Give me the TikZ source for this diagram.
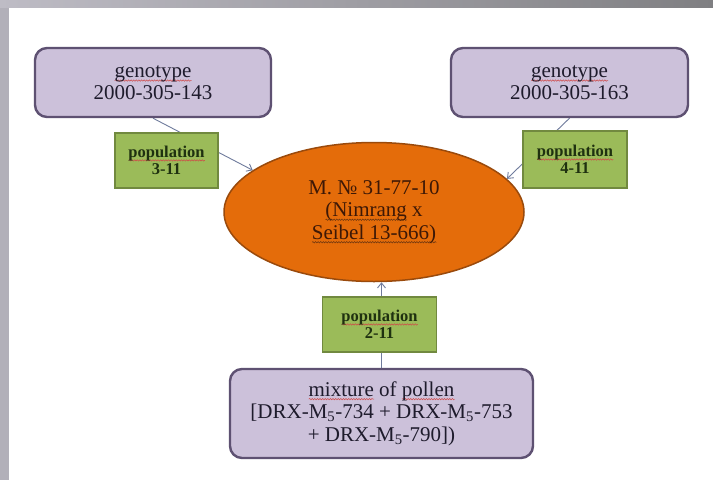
\documentclass[tikz,border=0pt]{standalone}
\usepackage{fontspec}
\setmainfont{Liberation Serif}
\usetikzlibrary{shapes.geometric,arrows.meta,backgrounds,decorations.pathmorphing}
\definecolor{purplefill}{HTML}{CCC1DA}
\definecolor{purpleborder}{HTML}{5E5172}
\definecolor{purpletext}{HTML}{1E1B2C}
\definecolor{greenfill}{HTML}{9BBB59}
\definecolor{greenborder}{HTML}{71893F}
\definecolor{greentext}{HTML}{1F3110}
\definecolor{ellfill}{HTML}{E46C0A}
\definecolor{ellborder}{HTML}{9A4A0C}
\definecolor{elltext}{HTML}{3D1806}
\definecolor{linkcol}{HTML}{6F7B9C}
\definecolor{stripgray}{HTML}{B2B0B9}
\definecolor{bandleft}{HTML}{BEBCC5}
\definecolor{bandright}{HTML}{7F7F82}
\definecolor{wavered}{HTML}{D04848}
\definecolor{wavebrown}{HTML}{6A3410}
\newsavebox\wvbox
\newcommand\wv[2][wavered]{\sbox\wvbox{#2}\rlap{\tikz[baseline=0pt]{\draw[#1, fill=none, line width=0.5pt, sharp corners, decorate, decoration={snake, amplitude=0.7pt, segment length=2.6pt}] (0pt,-3pt) -- (\the\wd\wvbox,-3pt);}}\usebox\wvbox}
\begin{document}
\begin{tikzpicture}[x=1pt,y=-1pt,
  purplebox/.style={draw=purpleborder, line width=2.4pt, fill=purplefill, rounded corners=12pt, text=purpletext, align=center, inner sep=0pt, font=\fontsize{21}{21.5}\selectfont},
  greenbox/.style={draw=greenborder, line width=1.5pt, fill=greenfill, text=greentext, align=center, inner sep=0pt, font=\fontsize{16.5}{17.5}\selectfont\bfseries},
  centre/.style={ellipse, draw=ellborder, line width=1.5pt, fill=ellfill, text=elltext, align=center, inner sep=0pt, minimum width=300pt, minimum height=139pt, font=\fontsize{21}{22.5}\selectfont},
  link/.style={draw=linkcol, line width=0.9pt, -{Straight Barb[length=5pt,width=8pt]}}]
\begin{pgfonlayer}{background}
\fill[white] (0,0) rectangle (713,480);
\fill[stripgray] (0,0) rectangle (9,480);
\shade[left color=bandleft,right color=bandright] (0,0) rectangle (713,7);
\end{pgfonlayer}
\useasboundingbox (0,0) rectangle (713,480);
\node[purplebox, minimum width=236pt, minimum height=69pt] (g1) at (153,82.5) {\wv{genotype}\\2000-305-143};
\node[purplebox, minimum width=237pt, minimum height=69pt] (g2) at (569.5,82.5) {\wv{genotype}\\2000-305-163};
\node[centre] (m) at (374,212) {M. № 31-77-10\\\wv[wavebrown]{(Nimrang} x\\\wv[wavebrown]{Seibel 13-666)}};
\node[greenbox, minimum width=103pt, minimum height=55pt] (p1) at (166.5,160.5) {\wv{population}\\3-11};
\node[greenbox, minimum width=104pt, minimum height=57pt] (p2) at (575,159.5) {\wv{population}\\4-11};
\node[greenbox, minimum width=114pt, minimum height=55pt] (p3) at (379.5,324.5) {\wv{population}\\2-11};
\node[purplebox, minimum width=303pt, minimum height=89pt, font=\fontsize{21}{22.5}\selectfont] (mix) at (381.5,413.5) {\wv{mixture} of \wv{pollen}\\{[}DRX-M\textsubscript{5}-734 + DRX-M\textsubscript{5}-753\\+ DRX-M\textsubscript{5}-790])};
\begin{pgfonlayer}{background}
\draw[link] (g1.south) -- (m.161);
\draw[link] (g2.south) -- (m.14);
\draw[link] (mix.north) -- (mix.north |- m.south);
\end{pgfonlayer}
\end{tikzpicture}
\end{document}
